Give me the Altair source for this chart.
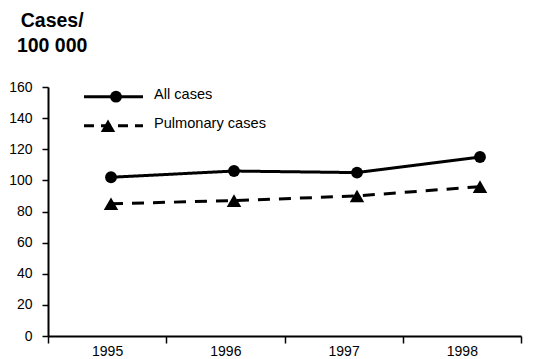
import altair as alt
import pandas as pd

years = ["1995", "1996", "1997", "1998"]
all_cases = [102, 106, 105, 115]
pulmonary_cases = [85, 87, 90, 96]
series_names = ["All cases", "Pulmonary cases"]
y_ticks = [0, 20, 40, 60, 80, 100, 120, 140, 160]

rows = []
for name, vals in zip(series_names, [all_cases, pulmonary_cases]):
    for yr, v in zip(years, vals):
        rows.append({"year": yr, "value": v, "series": name})
df = pd.DataFrame(rows)
legend_df = pd.DataFrame({"series": series_names})
year_df = pd.DataFrame({"year": years})

FONT = "Liberation Sans"

shape_scale = alt.Scale(domain=series_names, range=["circle", "triangle-up"])
size_scale = alt.Scale(domain=series_names, range=[140, 210])

# category axis (band boundaries as ticks, labels centred)
x_axis = alt.X("year:N", title=None, sort=years,
               scale=alt.Scale(type="band", paddingInner=0, paddingOuter=0),
               axis=alt.Axis(labelAngle=0, tickBand="extent", tickSize=7, tickWidth=1.5,
                             domainWidth=2, domainColor="black", tickColor="black",
                             labelFont=FONT, labelFontSize=14, labelColor="black",
                             labelPadding=1, grid=False))
# data positions as drawn in the reference (slightly wider spread than the bands)
x_data = alt.X("year:N", title=None, sort=years, axis=None,
               scale=alt.Scale(type="point", domain=years, range=[63, 432], padding=0))
y = alt.Y("value:Q", title=None,
          scale=alt.Scale(domain=[0, 160], nice=False),
          axis=alt.Axis(values=y_ticks, tickSize=6, tickWidth=1.5, domainWidth=2,
                        domainColor="black", tickColor="black",
                        labelFont=FONT, labelFontSize=14, labelColor="black",
                        labelPadding=10, grid=False))

axis_layer = alt.Chart(year_df).mark_point(opacity=0).encode(x=x_axis)

base = alt.Chart(df)
lines = base.mark_line(color="black", strokeWidth=3).encode(
    x=x_data, y=y,
    strokeDash=alt.StrokeDash("series:N", sort=series_names,
                              scale=alt.Scale(domain=series_names, range=[[1, 0], [12, 9]]),
                              legend=None),
    detail="series:N",
)
points = base.mark_point(filled=True, color="black", opacity=1).encode(
    x=x_data, y=y,
    shape=alt.Shape("series:N", sort=series_names, scale=shape_scale, legend=None),
    size=alt.Size("series:N", scale=size_scale, legend=None),
)

data_layer = alt.layer(axis_layer, lines, points).resolve_scale(x="independent")

# legend drawn from the legend table
ly = alt.Y("series:N", title=None, axis=None,
           scale=alt.Scale(type="point", domain=series_names, range=[9.7, 38.7], padding=0))
lx = alt.X("series:N", title=None, axis=None,
           scale=alt.Scale(type="point", domain=series_names, range=[68, 60], padding=0))

lbase = alt.Chart(legend_df)
leg_rule = lbase.mark_rule(color="black", strokeWidth=3).encode(
    x=alt.value(36), x2=alt.value(95), y=ly,
    strokeDash=alt.StrokeDash("series:N",
                              scale=alt.Scale(domain=series_names, range=[[1, 0], [10, 7]]),
                              legend=None),
)
leg_pts = lbase.mark_point(filled=True, color="black", opacity=1).encode(
    x=lx, y=ly,
    shape=alt.Shape("series:N", scale=shape_scale, legend=None),
    size=alt.Size("series:N", scale=size_scale, legend=None),
)
leg_text = lbase.mark_text(align="left", baseline="middle", dy=-2, font=FONT,
                           fontSize=14.6, color="black").encode(
    x=alt.value(106), y=ly, text="series:N",
)
legend_layer = alt.layer(leg_rule, leg_pts, leg_text)

chart = alt.layer(data_layer, legend_layer).resolve_scale(
    x="independent", y="independent", strokeDash="independent"
).properties(
    width=473, height=249,
    padding={"left": 0, "top": 3, "right": 10, "bottom": 0},
    title=alt.TitleParams(
        text=["Cases/", "100 000"], anchor="start", frame="bounds", align="center",
        font=FONT, fontSize=19.5, fontWeight="bold", color="black",
        lineHeight=24.5, dx=43.5, offset=24,
    ),
).configure_view(stroke=None)

chart.save("out.html", embed_options={"renderer": "svg", "actions": False})
